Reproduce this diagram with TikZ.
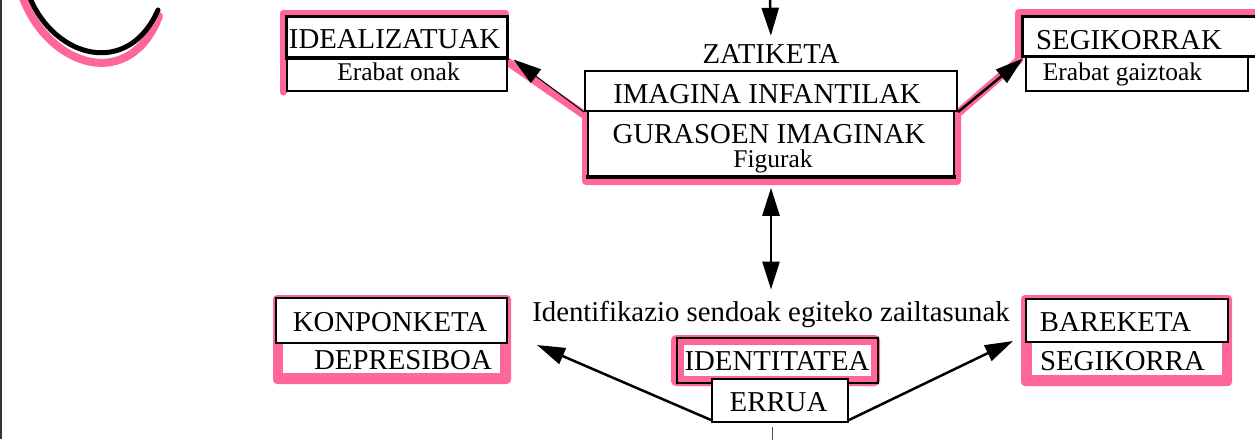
\documentclass[tikz,border=0pt]{standalone}
\usepackage{fontspec}
\setmainfont{Liberation Serif}
\usetikzlibrary{arrows.meta,calc}
\definecolor{hl}{RGB}{255,102,153}
\newcommand\bigf{\fontsize{28.8}{32}\selectfont}
\newcommand\smf{\fontsize{25.5}{28}\selectfont}
\begin{document}
\begin{tikzpicture}[x=1pt,y=-1pt,
  box/.style={draw, line width=2pt, inner sep=0pt, fill=white},
  txt/.style={inner sep=0pt, anchor=base},
  pinkline/.style={draw=hl, line width=7pt, line join=round, line cap=round},
  arr/.style={-{Triangle[length=28pt,width=17pt]}, line width=2.5pt},
  darr/.style={{Triangle[length=28pt,width=17pt]}-{Triangle[length=28pt,width=17pt]}, line width=2.5pt},
]
\useasboundingbox (0,0) rectangle (1255,439);
\clip (0,0) rectangle (1255,439);
% left border line
\draw[line width=1.5pt, black!80] (0.8,0) -- (0.8,439);
% top-left curve
\draw[hl, line width=8pt, line cap=round] (23,-2) .. controls (50,68) and (130,92) .. (159,16);
\draw[black, line width=5pt, line cap=round] (30,-2) .. controls (55,58) and (128,78) .. (158,10);
% pink highlight along upper boxes
\path[pinkline] (283,92) -- (283,13) -- (505,13) -- (505,60);
\path[pinkline, line width=8pt] (505,60) -- (586,116) -- (586,181) -- (957,181) -- (957,114) -- (1019,60) -- (1019,13) -- (1290,13);
% upper left boxes
\node[box, line width=3pt, minimum width=221pt, minimum height=41pt] (ideal) at (396.5,36.5) {};
\node[box, minimum width=220pt, minimum height=34pt] (onak) at (397,74) {};
\draw[line width=3pt] (ideal.south west) -- (ideal.south east);
\node[txt] (idealt) at (394.5,48) {\bigf IDEALIZATUAK};
\node[txt] (onakt) at (398.5,80) {\smf Erabat onak};
% central boxes
\node[txt] (zat) at (771,63) {\bigf ZATIKETA};
\node[box, minimum width=372pt, minimum height=40pt] (imag) at (771,91) {};
\node[box, line width=1.5pt, minimum width=366pt, minimum height=67pt] (gur) at (771,144.5) {};
\draw[line width=4pt] ($(gur.south west)+(-1,-1.5)$) -- ($(gur.south east)+(1,-1.5)$);
\node[txt] (imagt) at (767,103) {\bigf IMAGINA INFANTILAK};
\node[txt] (gurt) at (769,143) {\bigf GURASOEN IMAGINAK};
\node[txt] (fig) at (773,167) {\smf Figurak};
% upper right boxes
\node[box, minimum width=222pt, minimum height=35pt] (gaizt) at (1137,73.5) {};
\node[box, line width=3pt, minimum width=269pt, minimum height=40pt, anchor=west] (seg) at (1021,36) {};
\node[txt] (segt) at (1129,49) {\bigf SEGIKORRAK};
\node[txt] (gaiztt) at (1122.5,80) {\smf Erabat gaiztoak};
% arrows upper part
\coordinate (topin) at (770,-5);
\draw[arr] (topin) -- (zat.north) [shorten >=8pt];
\draw[-{Triangle[length=28pt,width=17pt]}, line width=1pt] (imag.south west) -- ($(ideal.south east)+(5,1)$);
\draw[arr] (imag.south east) -- ($(seg.south west)+(2,1)$);
% middle text and double arrow
\node[txt] (iden) at (771,321) {\bigf Identifikazio sendoak egiteko zailtasunak};
\draw[darr, shorten <=9pt, shorten >=11pt] (gur.south) -- (iden.north);
% KONPONKETA / DEPRESIBOA
\fill[hl, rounded corners=4pt] (273,295) rectangle (511,384);
\fill[white] (283,343) rectangle (500,373);
\node[box, line width=2.5pt, minimum width=231pt, minimum height=45pt] (konp) at (391.5,320.5) {};
\node[txt] (konpt) at (390,331) {\bigf KONPONKETA};
\node[txt] (depr) at (403,369) {\bigf DEPRESIBOA};
% IDENTITATEA / ERRUA
\fill[hl, rounded corners=5pt] (671,335) rectangle (880,386);
\fill[white] (684,345) rectangle (871,376);
\node[draw, line width=2pt, inner sep=0pt, minimum width=201pt, minimum height=45pt] (idt) at (777.5,360.5) {};
\node[txt] (idtt) at (777,370) {\bigf IDENTITATEA};
\node[box, minimum width=136pt, minimum height=43pt] (errua) at (780,400.5) {};
\node[txt] (eruat) at (778.5,411) {\bigf ERRUA};
% BAREKETA / SEGIKORRA
\fill[hl, rounded corners=4pt] (1021,295) rectangle (1232,386);
\fill[white] (1032,342) rectangle (1222,375);
\node[box, line width=2.5pt, minimum width=202pt, minimum height=43pt] (bar) at (1127,320.5) {};
\node[txt] (bart) at (1115.5,331) {\bigf BAREKETA};
\node[txt] (segi) at (1122.5,370) {\bigf SEGIKORRA};
% lower arrows
\coordinate (kt) at (537,345);
\coordinate (bt) at (1013,341);
\draw[arr] ($(errua.south west)+(0,-3)$) -- (kt);
\draw[arr] ($(errua.south east)+(0,-3)$) -- (bt);
% bottom tick
\coordinate (tickA) at (772,427);
\coordinate (tickB) at (772,445);
\draw[line width=1pt, black!70] (tickA) -- (tickB);
\end{tikzpicture}
\end{document}
